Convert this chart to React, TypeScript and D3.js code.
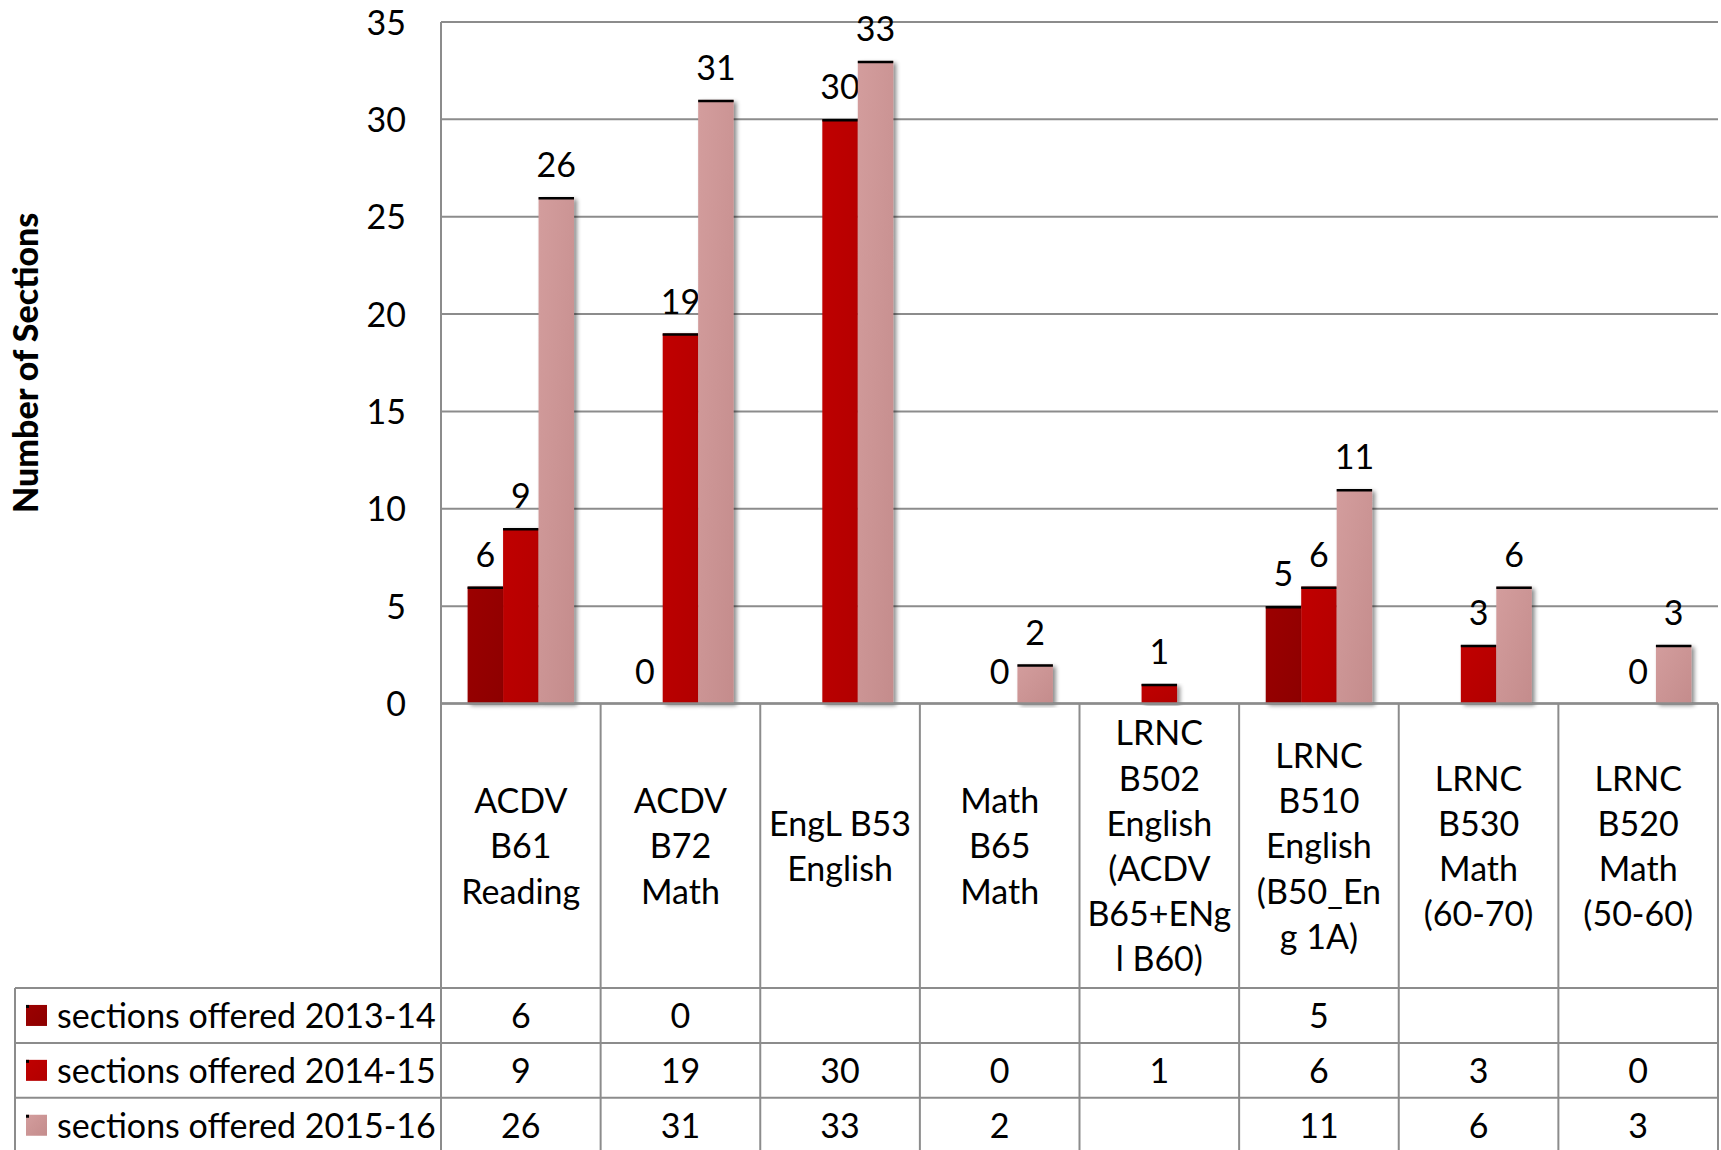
import React from "react";
import * as d3 from "d3";

// course labels, already split into the lines shown under the bars
const categories = [
  ["ACDV", "B61", "Reading"],
  ["ACDV", "B72", "Math"],
  ["EngL B53", "English"],
  ["Math", "B65", "Math"],
  ["LRNC", "B502", "English", "(ACDV", "B65+ENg", "l B60)"],
  ["LRNC", "B510", "English", "(B50_En", "g 1A)"],
  ["LRNC", "B530", "Math", "(60-70)"],
  ["LRNC", "B520", "Math", "(50-60)"],
];

const seriesNames = [
  "sections offered 2013-14",
  "sections offered 2014-15",
  "sections offered 2015-16",
];
const values1314 = [6, 0, null, null, null, 5, null, null];
const values1415 = [9, 19, 30, 0, 1, 6, 3, 0];
const values1516 = [26, 31, 33, 2, null, 11, 6, 3];
const yTicks = [0, 5, 10, 15, 20, 25, 30, 35];

const colors = [
  ["#9c0000", "#8d0000"],
  ["#c00000", "#b20000"],
  ["#d39d9d", "#c48c8c"],
];

const W = 1721;
const H = 1150;
const left = 441;
const right = 1718;
const top = 22;
const zeroY = 703.5;
const tableTop = 988;
const rowH = 54.9;
const gridColor = "#8c8c8c";
const font = "Lato, 'Open Sans', sans-serif";
const fs = 34;
const dyMid = 4; // Lato's "middle" sits a bit high

const App = () => {
  const series = [values1314, values1415, values1516];
  const idx = categories.map((_, i) => i);

  const x = d3.scaleBand<number>().domain(idx).range([left, right]);
  const sub = d3
    .scaleBand<number>()
    .domain([0, 1, 2])
    .range([0, x.bandwidth()])
    .paddingOuter(0.75);
  const y = d3.scaleLinear().domain([0, 35]).range([zeroY, top]);
  const bw = sub.bandwidth();

  const headMid = (zeroY + tableTop) / 2;
  const lineH = 45.2;

  return (
    <svg
      width={W}
      height={H}
      style={{ position: "absolute", left: 0, top: 0, background: "#fff" }}
      fontFamily={font}
    >
      <defs>
        {colors.map((c, i) => (
          <linearGradient key={i} id={"g" + i} x1="0" y1="0" x2="1" y2="1">
            <stop offset="0%" stopColor={c[0]} />
            <stop offset="100%" stopColor={c[1]} />
          </linearGradient>
        ))}
        <filter id="shadow" x="-20%" y="-5%" width="150%" height="115%">
          <feDropShadow dx="3" dy="2" stdDeviation="2.2" floodColor="#000" floodOpacity="0.45" />
        </filter>
      </defs>

      {/* gridlines */}
      {yTicks.map((t) => (
        <g key={t}>
          <line x1={left} x2={right} y1={y(t)} y2={y(t)} stroke={gridColor} strokeWidth={2} />
          <text
            x={406}
            y={y(t) + dyMid}
            textAnchor="end"
            dominantBaseline="middle"
            fontSize={fs}
            fill="#000"
          >
            {t}
          </text>
        </g>
      ))}

      {/* y axis title */}
      <text
        transform={`translate(38 ${(top + zeroY) / 2}) rotate(-90)`}
        textAnchor="middle"
        fontWeight="900"
        fontSize={34}
      >
        Number of Sections
      </text>

      {/* bars */}
      {series.map((vals, s) =>
        vals.map((v, i) => {
          if (v === null) return null;
          const bx = (x(i) as number) + (sub(s) as number);
          return (
            <g key={s + "-" + i}>
              {v > 0 && (
                <>
                  <rect
                    x={bx}
                    y={y(v)}
                    width={bw}
                    height={zeroY - y(v)}
                    fill={`url(#g${s})`}
                    filter="url(#shadow)"
                  />
                  <line x1={bx} x2={bx + bw} y1={y(v) + 1} y2={y(v) + 1} stroke="#000" strokeWidth={2.5} />
                </>
              )}
              <text x={bx + bw / 2} y={y(v) - 20} textAnchor="middle" fontSize={fs}>
                {v}
              </text>
            </g>
          );
        })
      )}

      {/* table lines */}
      <line x1={left} x2={right} y1={zeroY} y2={zeroY} stroke={gridColor} strokeWidth={2.5} />
      <line x1={left} x2={left} y1={top} y2={H} stroke={gridColor} strokeWidth={2} />
      {idx.map((i) => (
        <line
          key={i}
          x1={(x(i) as number) + x.bandwidth()}
          x2={(x(i) as number) + x.bandwidth()}
          y1={zeroY}
          y2={H}
          stroke={gridColor}
          strokeWidth={2}
        />
      ))}
      <line x1={15} x2={15} y1={tableTop} y2={H} stroke={gridColor} strokeWidth={2} />
      {[0, 1, 2].map((r) => (
        <line
          key={r}
          x1={15}
          x2={right}
          y1={tableTop + r * rowH}
          y2={tableTop + r * rowH}
          stroke={gridColor}
          strokeWidth={2}
        />
      ))}

      {/* category headers */}
      {categories.map((lines, i) => {
        const cx = (x(i) as number) + x.bandwidth() / 2;
        const start = headMid - ((lines.length - 1) * lineH) / 2 + dyMid;
        return (
          <text key={i} textAnchor="middle" fontSize={fs}>
            {lines.map((ln, j) => (
              <tspan key={j} x={cx} y={start + j * lineH} dominantBaseline="middle">
                {ln}
              </tspan>
            ))}
          </text>
        );
      })}

      {/* legend rows + values */}
      {seriesNames.map((name, s) => {
        const cy = tableTop + s * rowH + rowH / 2;
        return (
          <g key={name}>
            <rect x={26} y={cy - 10.5} width={21} height={21} fill={`url(#g${s})`} />
            <rect x={26} y={cy - 10.5} width={3} height={3} fill="#000" />
            <text x={57} y={cy + dyMid} dominantBaseline="middle" fontSize={fs}>
              {name}
            </text>
            {series[s].map((v, i) =>
              v === null ? null : (
                <text
                  key={i}
                  x={(x(i) as number) + x.bandwidth() / 2}
                  y={cy + dyMid}
                  textAnchor="middle"
                  dominantBaseline="middle"
                  fontSize={fs}
                >
                  {v}
                </text>
              )
            )}
          </g>
        );
      })}
    </svg>
  );
};

export default App;
